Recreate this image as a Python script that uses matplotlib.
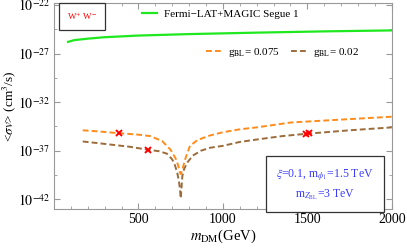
import numpy as np
import matplotlib
matplotlib.use("Agg")
import matplotlib.pyplot as plt
from matplotlib.lines import Line2D

plt.rcParams['font.family'] = ['Liberation Serif', 'DejaVu Serif']
plt.rcParams['mathtext.fontset'] = 'stix'

# Fermi-LAT+MAGIC Segue 1 limit (log10 <sigma v>)
m_fermi = [83, 120, 200, 300, 500, 800, 1200, 1600, 2000]
lsv_fermi = [-25.8, -25.62, -25.47, -25.32, -25.15, -25.0, -24.85, -24.72, -24.62]

# g_BL = 0.075
m_075 = [170, 250, 385, 500, 570, 640, 690, 720, 735, 745, 750, 755, 765, 780,
         805, 850, 920, 1000, 1100, 1200, 1400, 1700, 2000]
lsv_075 = [-34.9, -35.0, -35.2, -35.35, -35.5, -36.0, -36.9, -37.8, -38.5, -39.2,
           -39.4, -39.2, -38.6, -37.7, -36.5, -35.9, -35.45, -35.1, -34.8, -34.6,
           -34.1, -33.8, -33.5]

# g_BL = 0.02
m_02 = [170, 300, 450, 556, 620, 668, 700, 716, 730, 740, 746, 750, 754, 760,
        770, 790, 822, 870, 923, 1000, 1100, 1200, 1350, 1500, 1750, 2000]
lsv_02 = [-36.05, -36.3, -36.6, -36.9, -37.05, -37.3, -37.9, -38.5, -39.3, -40.2,
          -41.0, -41.9, -41.0, -39.6, -38.9, -38.2, -37.5, -37.0, -36.7, -36.5,
          -36.1, -35.85, -35.5, -35.25, -34.9, -34.6]

# benchmark points
m_cross = [385, 556, 1490, 1508]
lsv_cross = [-35.2, -36.9, -35.25, -35.23]

green = '#1ee81e'
orange = '#ff8c1a'
brown = '#9c6b3a'

fig = plt.figure(figsize=(4.07, 2.5), dpi=100)
ax = fig.add_axes([0.1327, 0.164, 0.830, 0.824])

ax.plot(m_fermi, 10.0 ** np.array(lsv_fermi), color=green, lw=1.6)
ax.plot(m_075, 10.0 ** np.array(lsv_075), color=orange, lw=1.4, ls=(0, (3, 1.6)))
ax.plot(m_02, 10.0 ** np.array(lsv_02), color=brown, lw=1.4, ls=(0, (3, 1.6)))
ax.plot(m_cross, 10.0 ** np.array(lsv_cross), 'x', color='red', ms=4.5, mew=1.4)

ax.set_yscale('log')
ax.set_xlim(0, 2000)
ax.set_ylim(1e-43, 10 ** -21.8)

ax.set_xticks([500, 1000, 1500, 2000])
ax.set_xticks(np.arange(100, 2000, 100), minor=True)
yt = [1e-42, 1e-37, 1e-32, 1e-27, 1e-22]
ax.set_yticks(yt)
ax.set_yticklabels([r'$10^{%d}$' % e for e in [-42, -37, -32, -27, -22]])
ax.set_yticks([10.0 ** e for e in [-39.5, -34.5, -29.5, -24.5]], minor=True)
ax.yaxis.set_minor_formatter(matplotlib.ticker.NullFormatter())

ax.tick_params(which='both', direction='in', top=True, right=True,
               color='#999999', labelsize=10, pad=3)
ax.tick_params(which='major', length=4)
ax.tick_params(which='minor', length=2.5)
for s in ax.spines.values():
    s.set_color('#999999')

ax.set_xlabel(r'$m_{\rm DM}$(GeV)', fontsize=10.5, labelpad=1)
ax.set_ylabel(r'<$\sigma v$> (cm$^3$/s)', fontsize=9.5)
ax.yaxis.set_label_coords(-0.108, 0.5)

# legend for Fermi limit
leg1 = ax.legend([Line2D([], [], color=green, lw=1.6)], ['Fermi\u2212LAT+MAGIC Segue 1'],
                 loc='upper left', bbox_to_anchor=(0.23, 1.02), frameon=False,
                 fontsize=8, handlelength=1.4, handletextpad=0.6)
ax.add_artist(leg1)
ax.legend([Line2D([], [], color=orange, lw=1.4, ls=(0, (3, 1.6))),
           Line2D([], [], color=brown, lw=1.4, ls=(0, (3, 1.6)))],
          [r'g$_{\rm BL}$= 0.075', r'g$_{\rm BL}$= 0.02'],
          loc='upper left', bbox_to_anchor=(0.42, 0.84), frameon=False, ncol=2,
          fontsize=8, handlelength=1.4, handletextpad=0.6, columnspacing=1.0)

ax.text(0.083, 0.935, r'W$^{+}$ W$^{-}$', transform=ax.transAxes, color='red',
        fontsize=6.5, ha='center', va='center',
        bbox=dict(boxstyle='square,pad=0.9', fc='white', ec='#333333', lw=0.9))

ax.text(0.803, 0.12, '$\\xi$=0.1, m$_{\\phi_1}$=1.5 TeV\nm$_{Z_{\\rm BL}}$=3 TeV',
        transform=ax.transAxes, color='#3a3aff', fontsize=8.5, ha='center',
        va='center', linespacing=1.4,
        bbox=dict(boxstyle='square,pad=0.85', fc='white', ec='#333333', lw=0.9))

fig.savefig('out.png', dpi=100)
